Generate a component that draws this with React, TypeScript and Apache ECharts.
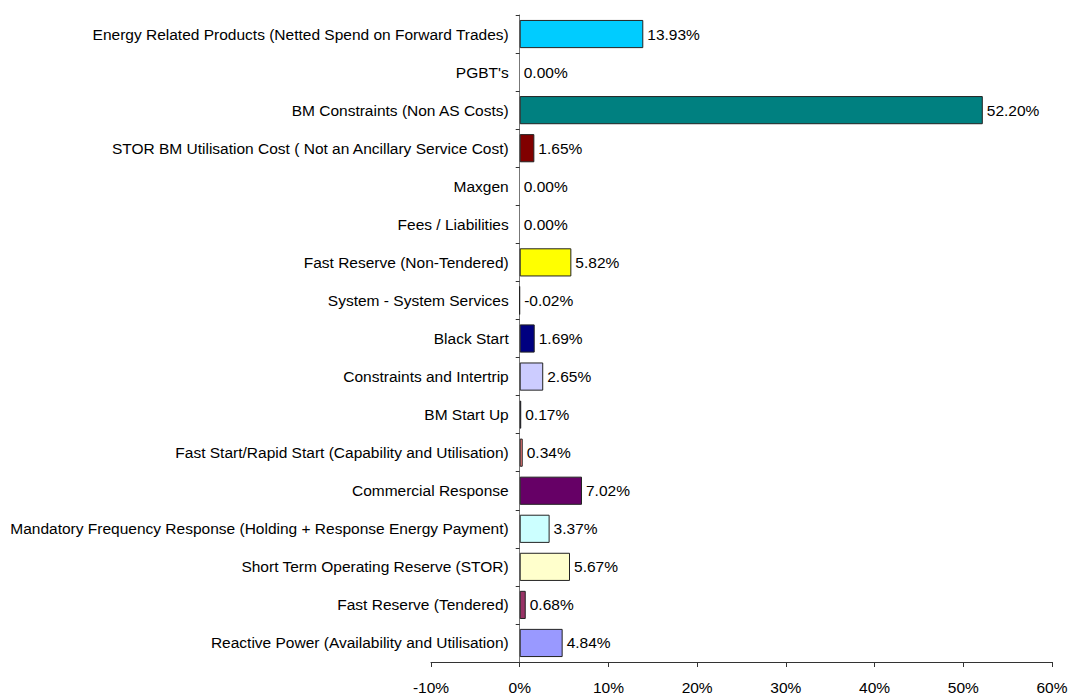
import React, { useEffect, useRef } from "react";
import * as echarts from "echarts";

const categories = [
  "Energy Related Products (Netted Spend on Forward Trades)",
  "PGBT's",
  "BM Constraints (Non AS Costs)",
  "STOR BM Utilisation Cost ( Not an Ancillary Service Cost)",
  "Maxgen",
  "Fees / Liabilities",
  "Fast Reserve (Non-Tendered)",
  "System - System Services",
  "Black Start",
  "Constraints and Intertrip",
  "BM Start Up",
  "Fast Start/Rapid Start (Capability and Utilisation)",
  "Commercial Response",
  "Mandatory Frequency Response (Holding + Response Energy Payment)",
  "Short Term Operating Reserve (STOR)",
  "Fast Reserve (Tendered)",
  "Reactive Power (Availability and Utilisation)",
];

const values = [13.93, 0.0, 52.2, 1.65, 0.0, 0.0, 5.82, -0.02, 1.69, 2.65, 0.17, 0.34, 7.02, 3.37, 5.67, 0.68, 4.84];

const colors = [
  "#00CCFF", "#FFFFFF", "#008080", "#800000", "#FFFFFF", "#FFFFFF", "#FFFF00", "#666666",
  "#000080", "#CCCCFF", "#000080", "#FF8080", "#660066", "#CCFFFF", "#FFFFCC", "#993366", "#9999FF",
];

const xTicks = [-10, 0, 10, 20, 30, 40, 50, 60];

export default function App() {
  const ref = useRef<HTMLDivElement>(null);
  useEffect(() => {
    if (!ref.current) return;
    const chart = echarts.init(ref.current, null, { renderer: "svg" });
    const font = "Liberation Sans, Arial, sans-serif";
    const gridLeft = 431;
    const gridRight = 20;
    const xMin = xTicks[0];
    const xMax = xTicks[xTicks.length - 1];
    const plotW = 1072 - gridLeft - gridRight;
    const zeroOffset = ((0 - xMin) / (xMax - xMin)) * plotW;
    chart.setOption({
      animation: false,
      textStyle: { fontFamily: font },
      grid: { left: gridLeft, right: gridRight, top: 15, bottom: 33, containLabel: false },
      xAxis: {
        type: "value",
        min: xMin,
        max: xMax,
        interval: 10,
        splitLine: { show: false },
        axisLine: { show: true, lineStyle: { color: "#333", width: 1 } },
        axisTick: { show: true, length: 5, lineStyle: { color: "#333" } },
        axisLabel: {
          color: "#000",
          fontSize: 15.5,
          fontFamily: font,
          margin: 17,
          formatter: (v: number) => `${v}%`,
        },
      },
      yAxis: {
        type: "category",
        data: categories,
        inverse: true,
        offset: -zeroOffset,
        axisLine: { show: true, onZero: false, lineStyle: { color: "#777", width: 1 } },
        axisTick: { show: true, length: 4, lineStyle: { color: "#333" } },
        axisLabel: { color: "#000", fontSize: 15.5, fontFamily: font, margin: 11 },
      },
      series: [
        {
          type: "bar",
          barCategoryGap: "26%",
          data: values.map((v, i) => ({
            value: v,
            itemStyle: { color: colors[i], borderColor: "#222", borderWidth: v === 0 ? 0 : 1 },
          })),
          label: {
            show: true,
            position: "right",
            distance: 4,
            color: "#000",
            fontSize: 15.5,
            fontFamily: font,
            formatter: (p: any) => `${Number(p.value).toFixed(2)}%`,
          },
        },
      ],
    });
    return () => chart.dispose();
  }, []);
  return <div ref={ref} style={{ width: 1072, height: 695, position: "absolute", left: 0, top: 0 }} />;
}
